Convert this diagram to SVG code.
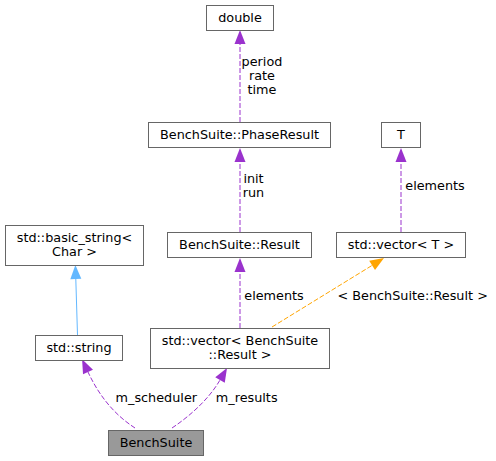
<svg xmlns="http://www.w3.org/2000/svg" width="496" height="461" viewBox="0 0 496 461">
<style>
.box{fill:#ffffff;stroke:#666666;stroke-width:1}
.root{fill:#999999;stroke:#666666;stroke-width:1}
text{font-family:"DejaVu Sans","Liberation Sans",sans-serif;font-size:12.8px;fill:#000000}
.c{text-anchor:middle}
.e{fill:none;stroke-width:1}
.p{stroke:#9a32cd;stroke-dasharray:5,2}
.o{stroke:#ffa500;stroke-dasharray:5,2}
.b{stroke:#63b8ff}
</style>
<defs>
<marker id="ap" markerUnits="userSpaceOnUse" markerWidth="16" markerHeight="12" refX="0" refY="6" orient="auto" overflow="visible"><path d="M0,0.5 L14,6 L0,11.5 Z" fill="#9a32cd"/></marker>
<marker id="ao" markerUnits="userSpaceOnUse" markerWidth="16" markerHeight="12" refX="0" refY="6" orient="auto" overflow="visible"><path d="M0,0.5 L14,6 L0,11.5 Z" fill="#ffa500"/></marker>
<marker id="ab" markerUnits="userSpaceOnUse" markerWidth="16" markerHeight="12" refX="0" refY="6" orient="auto" overflow="visible"><path d="M0,0.5 L14,6 L0,11.5 Z" fill="#63b8ff"/></marker>
</defs>
<g id="edges">
<path class="e p" d="M240,122 V44" marker-end="url(#ap)"/>
<path class="e p" d="M240,232 V162" marker-end="url(#ap)"/>
<path class="e p" d="M401,232 V162" marker-end="url(#ap)"/>
<path class="e p" d="M240,328 V272" marker-end="url(#ap)"/>
<path class="e o" d="M272,327 L372.1,265.4" marker-end="url(#ao)"/>
<path class="e b" d="M77.5,335 L75.8,279" marker-end="url(#ab)"/>
<path class="e p" d="M135,428 C118,417 101,400 88,372" marker-end="url(#ap)"/>
<path class="e p" d="M172,428 C190,416 209,399 220,380" marker-end="url(#ap)"/>
<text class="c" x="262" y="66">period</text>
<text class="c" x="262" y="80">rate</text>
<text class="c" x="262" y="94">time</text>
<text class="c" x="253.5" y="183">init</text>
<text class="c" x="253.5" y="197">run</text>
<text class="c" x="435" y="190">elements</text>
<text class="c" x="274" y="300">elements</text>
<text class="c" x="412.7" y="300">&lt; BenchSuite::Result &gt;</text>
<text class="c" x="156.3" y="402">m_scheduler</text>
<text class="c" x="246.7" y="402">m_results</text>
</g>
<g id="node-double"><rect class="box" x="206.5" y="5.5" width="67" height="25"/><text class="c" x="240" y="22">double</text></g>
<g id="node-phaseresult"><rect class="box" x="148.5" y="122.5" width="182" height="25"/><text class="c" x="239.5" y="139">BenchSuite::PhaseResult</text></g>
<g id="node-T"><rect class="box" x="381.5" y="122.5" width="39" height="25"/><text class="c" x="401" y="139">T</text></g>
<g id="node-basic-string"><rect class="box" x="5.5" y="225.5" width="138" height="40"/><text class="c" x="74.5" y="241.5">std::basic_string&lt;</text><text class="c" x="74.5" y="256">Char &gt;</text></g>
<g id="node-result"><rect class="box" x="167.5" y="232.5" width="144" height="25"/><text class="c" x="239.5" y="249">BenchSuite::Result</text></g>
<g id="node-vector-T"><rect class="box" x="336.5" y="232.5" width="129" height="25"/><text class="c" x="401" y="249">std::vector&lt; T &gt;</text></g>
<g id="node-string"><rect class="box" x="35.5" y="335.5" width="87" height="25"/><text class="c" x="79" y="352">std::string</text></g>
<g id="node-vector-result"><rect class="box" x="150.5" y="328.5" width="179" height="40"/><text class="c" x="240" y="344.5">std::vector&lt; BenchSuite</text><text class="c" x="240" y="359">::Result &gt;</text></g>
<g id="node-benchsuite"><rect class="root" x="108.5" y="430.5" width="95" height="25"/><text class="c" x="156" y="447">BenchSuite</text></g>
</svg>
